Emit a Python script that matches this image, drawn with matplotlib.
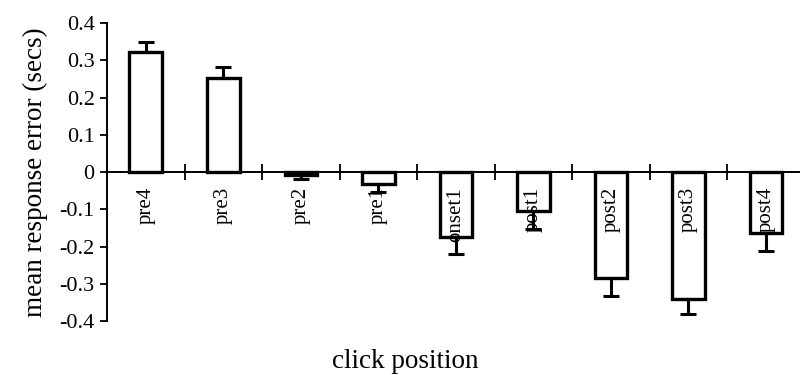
import matplotlib.pyplot as plt
import numpy as np

# mean response error per click position, with one-sided error bars
positions = ["pre4", "pre3", "pre2", "pre1", "onset1", "post1", "post2", "post3", "post4"]
mean_error = [0.322, 0.252, -0.008, -0.033, -0.174, -0.105, -0.284, -0.341, -0.164]
err = [0.028, 0.030, 0.012, 0.022, 0.046, 0.048, 0.049, 0.040, 0.048]

plt.rcParams['font.family'] = ['Liberation Serif', 'DejaVu Serif']

fig = plt.figure(figsize=(8, 3.75), dpi=100)
ax = fig.add_axes([107 / 800, 1 - 321 / 375, 1 - 107 / 800, (321 - 23) / 375])

x = np.arange(len(positions))
means = np.array(mean_error)
errs = np.array(err)
lower = np.where(means < 0, errs, 0)
upper = np.where(means >= 0, errs, 0)

ax.bar(x, means, width=0.42, color='white', edgecolor='black', linewidth=2.4, zorder=2)
ax.errorbar(x, means, yerr=[lower, upper], fmt='none', ecolor='black',
            elinewidth=2.2, capsize=6, capthick=2.2, zorder=3)

# category names sit under the zero line, rotated
for xi, name in zip(x, positions):
    ax.text(xi, -0.04, name, rotation=90, ha='center', va='top', fontsize=15, zorder=4)

ax.set_xlim(-0.5, 8.44)
ax.set_ylim(-0.4, 0.4)
ax.set_yticks(np.arange(-0.4, 0.41, 0.1))
ax.set_yticklabels(['-0.4', '-0.3', '-0.2', '-0.1', '0', '0.1', '0.2', '0.3', '0.4'], fontsize=16)
ax.tick_params(axis='y', direction='out', length=5, width=1.3, pad=4)

# zero line carries the category dividers
ax.spines['bottom'].set_position(('data', 0))
ax.spines['bottom'].set_linewidth(1.4)
ax.spines['left'].set_linewidth(1.4)
ax.spines['top'].set_visible(False)
ax.spines['right'].set_visible(False)
ax.set_xticks(x[:-1] + 0.5)
ax.set_xticklabels([])
ax.tick_params(axis='x', direction='inout', length=11, width=1.3)

ax.set_ylabel('mean response error (secs)', fontsize=19.5, labelpad=8)
fig.text(405 / 800, 1 - 361 / 375, 'click position', ha='center', va='center', fontsize=19.5)

fig.savefig('out.png', dpi=100)
